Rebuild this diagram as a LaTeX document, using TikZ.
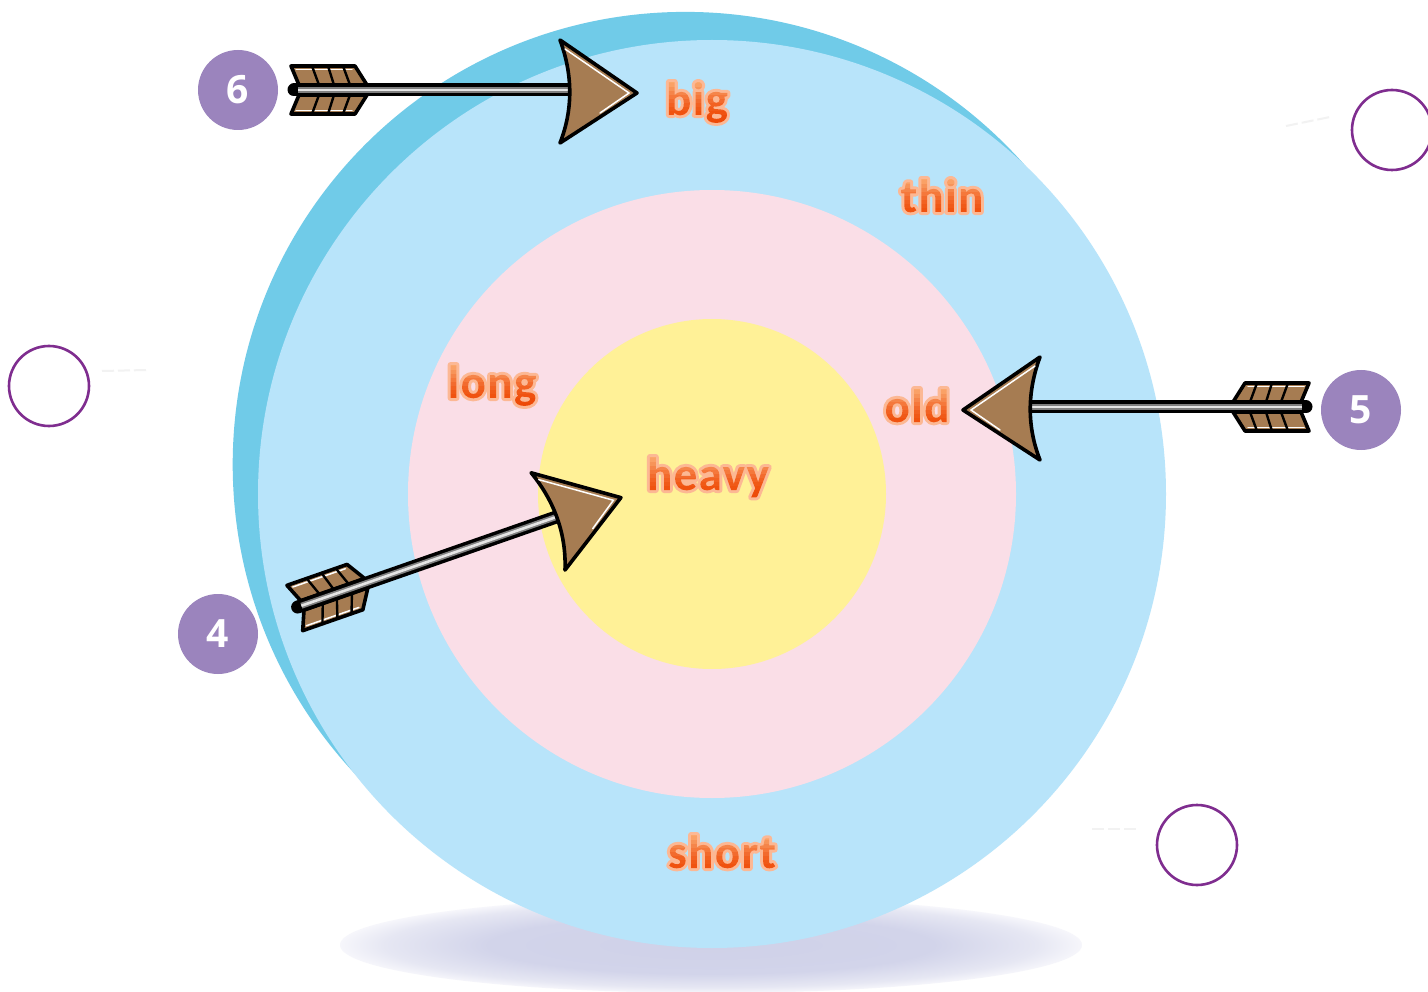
\documentclass[tikz,border=0pt]{standalone}
\usepackage{fontspec}
\setmainfont{Open Sans}
\newfontfamily\labfont[LetterSpace=3]{Carlito}
\usetikzlibrary{calc}
\definecolor{ringdark}{HTML}{70CBE8}
\definecolor{ringlight}{HTML}{B8E4FA}
\definecolor{ringpink}{HTML}{FADEE7}
\definecolor{ringyellow}{HTML}{FFF197}
\definecolor{badge}{HTML}{9B84BD}
\definecolor{openring}{HTML}{7F2D8F}
\definecolor{wood}{HTML}{A67C52}
\definecolor{faint}{HTML}{F2F2F2}
\definecolor{shadeA}{HTML}{CFD1E8}
\definecolor{shadeB}{HTML}{D2D4EA}
\definecolor{shadeD}{HTML}{E6E7F3}
\definecolor{shadeC}{HTML}{F6F6FB}
\pgfdeclareradialshading{shadowfade}{\pgfpoint{0bp}{0bp}}{%
  color(0bp)=(shadeA);
  color(15bp)=(shadeB);
  color(22bp)=(shadeD);
  color(25bp)=(shadeC);
  color(50bp)=(white)}
\newsavebox\gtbox
\newcommand\gradword[1]{\setbox\gtbox=\hbox{#1}\leavevmode
  \special{pdf:code q 1 J 1 j 6 w 0.99 0.72 0.58 RG 0.95 0.4 0.1 rg 6 Tr}\copy\gtbox
  \special{pdf:code 0 Tr}%
  \special{pdf:content
    .93 .28 .03 rg -200 -16 220 6 re f
    .93 .29 .03 rg -200 -10 220 5 re f
    .93 .30 .04 rg -200 -5 220 5 re f
    .94 .32 .06 rg -200 0 220 4 re f
    .94 .35 .09 rg -200 4 220 4 re f
    .95 .38 .13 rg -200 8 220 4 re f
    .95 .42 .18 rg -200 12 220 4 re f
    .96 .47 .23 rg -200 16 220 4 re f
    .96 .52 .29 rg -200 20 220 4 re f
    .97 .58 .35 rg -200 24 220 4 re f
    .98 .63 .40 rg -200 28 220 4 re f
    .98 .66 .42 rg -200 32 220 12 re f}%
  \special{pdf:code Q}}
\tikzset{
  word/.style={anchor=base,inner sep=0pt,font=\labfont\fontsize{47}{47}\selectfont\bfseries},
  badgenode/.style={circle,fill=badge,minimum size=80pt,inner sep=0pt,text=white,font=\fontsize{39}{39}\selectfont\bfseries},
  openmark/.style={circle,draw=openring,line width=2.6pt,fill=white,minimum size=80pt,inner sep=0pt},
  faintdash/.style={draw=faint,line width=2pt,dash pattern=on 12pt off 4pt},
  blackedge/.style={draw=black,line width=3.6pt,line join=round,fill=wood},
  glint/.style={draw=white,line width=1.5pt,line cap=round},
  pics/flightarrow/.style={code={
    \draw[blackedge] (3,-24) -- (67,-24) -- (79,-5) -- (11,-5) -- cycle;
    \draw[blackedge] (3,24) -- (67,24) -- (79,5) -- (11,5) -- cycle;
    \draw[glint] (8,-20.5) -- (64,-20.5);
    \draw[glint] (8,20.5) -- (64,20.5);
    \foreach \a/\b in {24/31,40/46,55/62}{
      \draw[black,line width=2.4pt] (\a,-24) -- (\b,-5);
      \draw[black,line width=2.4pt] (\a,24) -- (\b,5);
    }
    \draw[black,line width=13pt,line cap=round] (6,0) -- (285,0);
    \draw[gray,line width=6pt] (10,0) -- (285,0);
    \draw[white!80!gray,line width=2.6pt] (10,0) -- (285,0);
    \draw[blackedge] (272,-50) .. controls (285,-15) and (285,20) .. (272,53) -- (349,3) -- cycle;
    \draw[glint] (277,-41) -- (341,3) -- (312,23);
  }}
}
\begin{document}
\begin{tikzpicture}[x=1pt,y=-1pt]
\useasboundingbox (0,0) rectangle (1428,992);
\fill[white] (0,0) rectangle (1428,992);
% ground shadow
\path[shading=shadowfade] (711,945) ellipse [x radius=371,y radius=48];
% target
\fill[ringdark] (685.3,464.5) circle [radius=452.6];
\fill[ringlight] (712,494) circle [radius=454];
\fill[ringpink] (712,494) circle [radius=304];
\fill[ringyellow] (712,494) ellipse [x radius=174,y radius=175];
% words
\node[word] (wbig) at (697,115) {\gradword{big}};
\node[word] (wthin) at (942,212) {\gradword{thin}};
\node[word] (wlong) at (492,398) {\gradword{long}};
\node[word] (wold) at (917,422) {\gradword{old}};
\node[word] (wheavy) at (708,490) {\gradword{heavy}};
\node[word] (wshort) at (722,868) {\gradword{short}};
% arrows
\pic at (288,90) {flightarrow};
\pic[xscale=-1] at (1312,407) {flightarrow};
\pic[rotate=19.2,xscale=0.995] at (292,609) {flightarrow};
% number badges
\node[badgenode] (n6) at (238,90) {6};
\node[badgenode] (n5) at (1361,410) {5};
\node[badgenode] (n4) at (218,634) {4};
% empty answer rings and faint dashes
\node[openmark] (o1) at (1392,130) {};
\node[openmark] (o2) at (49,386) {};
\node[openmark] (o3) at (1197,845) {};
\coordinate (d1a) at (1286,126);
\coordinate (d1b) at (1330,117);
\coordinate (d2a) at (102,371);
\coordinate (d2b) at (147,370);
\coordinate (d3a) at (1092,829);
\coordinate (d3b) at (1137,829);
\path[faintdash] (d1a) -- (d1b);
\path[faintdash] (d2a) -- (d2b);
\path[faintdash] (d3a) -- (d3b);
\end{tikzpicture}
\end{document}
